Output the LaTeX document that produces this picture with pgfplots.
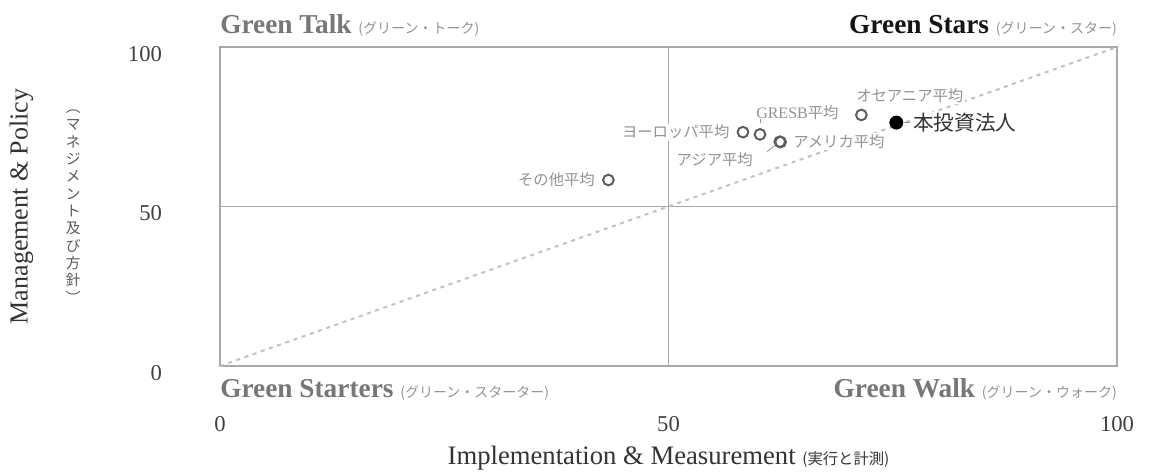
\documentclass[border=0pt]{standalone}
\usepackage{fontspec}
\setmainfont{Liberation Serif}
\newfontfamily\jp{Noto Sans CJK JP}
\usepackage{pgfplots}
\pgfplotsset{compat=1.18}
\definecolor{boxgray}{HTML}{A8A8A8}
\definecolor{diag}{HTML}{C2C2C2}
\definecolor{lbl}{HTML}{939393}
\definecolor{quad}{HTML}{777777}
\definecolor{mk}{HTML}{5E5E5E}
\begin{document}
\begin{tikzpicture}
\begin{axis}[
  width=672.75pt, height=239.25pt, scale only axis,
  xmin=0, xmax=100, ymin=0, ymax=100,
  xtick={0,50,100}, ytick={0,50,100},
  axis line style={boxgray, line width=1.4pt},
  major tick length=0pt,
  ticklabel style={font=\fontsize{17}{17}\selectfont, text=black!75},
  /pgf/number format/assume math mode=true,
  xticklabel style={yshift=-34pt},
  yticklabel style={xshift=-40pt, yshift=-5pt},
  clip=false,
]
% quadrant lines and diagonal
\addplot[boxgray, line width=1.4pt] coordinates {(50,0) (50,100)};
\addplot[boxgray, line width=1.4pt] coordinates {(0,50) (100,50)};
\addplot[diag, line width=1.5pt, dash pattern=on 3pt off 3.5pt] coordinates {(0,0) (100,100)};

% labels (white background hides the diagonal)
\tikzset{lb/.style={fill=white, inner sep=1pt, text=lbl, font=\jp\fontsize{11.5}{12}\selectfont}}
\node[lb, anchor=east] at ([xshift=-9pt]axis cs:43.3,58.3) {その他平均};
\node[lb, anchor=east] at ([xshift=-9pt]axis cs:58.3,73.3) {ヨーロッパ平均};
\node[lb, anchor=west] at ([xshift=-4pt,yshift=16.5pt]axis cs:60.2,72.6) {\fontspec{Liberation Serif}\fontsize{12}{12}\selectfont GRESB\jp\fontsize{11.5}{12}\selectfont 平均};
\node[lb, anchor=west] at ([xshift=9pt]axis cs:62.4,70.3) {アメリカ平均};
\node[lb, anchor=east] at ([xshift=-19pt,yshift=-13.5pt]axis cs:62.4,70.3) {アジア平均};
\node[lb, anchor=west] at ([xshift=-5pt,yshift=14.5pt]axis cs:71.5,78.7) {オセアニア平均};
\node[lb, anchor=west, text=black!80, font=\jp\fontsize{15.5}{16}\selectfont] at ([xshift=11.5pt]axis cs:75.4,76.3) {本投資法人};
\draw[lbl, line width=0.6pt] ([xshift=-9.5pt,yshift=-7.5pt]axis cs:62.4,70.3) -- ([xshift=-4pt,yshift=-3pt]axis cs:62.4,70.3);
\draw[lbl, line width=0.6pt] ([yshift=8.5pt]axis cs:60.2,72.6) -- ([yshift=11.5pt]axis cs:60.2,72.6);
\draw[lbl, line width=0.6pt] ([xshift=6pt]axis cs:75.4,76.3) -- ([xshift=10.5pt]axis cs:75.4,76.3);

% data points
\addplot[only marks, mark=o, mark size=4pt, mark options={mk, line width=1.5pt, fill=white}] coordinates {
  (43.3,58.3) (58.3,73.3) (60.2,72.6) (62.4,70.3) (62.5,70.2) (71.5,78.7)
};
\addplot[only marks, mark=*, mark size=5pt, black] coordinates {(75.4,76.3)};

% quadrant titles
\tikzset{qt/.style={inner sep=0pt, font=\bfseries\fontsize{20.5}{20}\selectfont}}
\newcommand{\sm}[1]{{\jp\mdseries\fontsize{10.5}{11}\selectfont\color{lbl} #1}}
\node[qt, text=quad, anchor=base west] at ([yshift=10pt]rel axis cs:0,1) {Green Talk \sm{(グリーン・トーク)}};
\node[qt, text=black!92, anchor=base east] at ([yshift=10pt]rel axis cs:1,1) {Green Stars \sm{(グリーン・スター)}};
\node[qt, text=quad, anchor=base west] at ([yshift=-24pt]rel axis cs:0,0) {Green Starters \sm{(グリーン・スターター)}};
\node[qt, text=quad, anchor=base east] at ([yshift=-24pt]rel axis cs:1,0) {Green Walk \sm{(グリーン・ウォーク)}};

% axis titles
\node[rotate=90, font=\fontsize{19.5}{20}\selectfont, text=black!80] at ([xshift=-149pt]rel axis cs:0,0.5) {Management \& Policy};
\node[align=center, font=\jp\fontsize{11}{13}\selectfont, text=black!65] at ([xshift=-110pt]rel axis cs:0,0.5) {︵\\マ\\ネ\\ジ\\メ\\ン\\ト\\及\\び\\方\\針\\︶};
\node[font=\fontsize{20}{20}\selectfont, text=black!80] at ([yshift=-69pt]rel axis cs:0.5,0) {Implementation \& Measurement {\jp\fontsize{11.5}{12}\selectfont (実行と計測)}};

\coordinate (bl) at (rel axis cs:0,0);
\coordinate (tr) at (rel axis cs:1,1);
\end{axis}
\pgfresetboundingbox
\path[use as bounding box] ([xshift=-165pt,yshift=-82.5pt]bl) rectangle ([xshift=24pt,yshift=35.25pt]tr);
\end{tikzpicture}
\end{document}
